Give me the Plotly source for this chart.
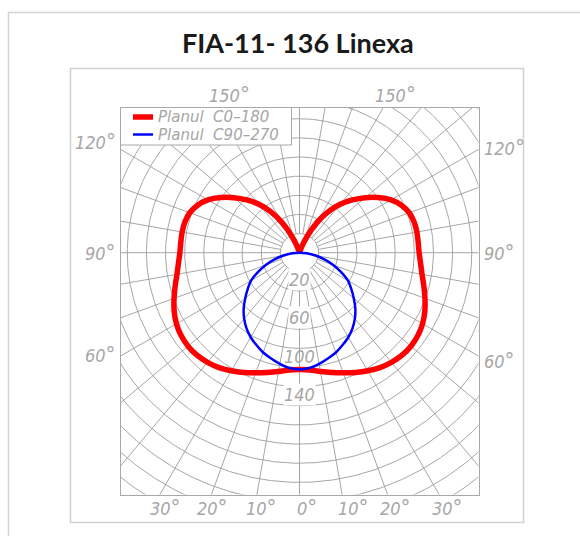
import numpy as np
import plotly.graph_objects as go

# ---------------- data ----------------
# Luminous intensity vs. gamma angle (0 deg = nadir)
gamma_c0 = [0, 5, 10, 15, 20, 25, 30, 35, 40, 45, 50, 55, 60, 65, 70, 75, 80, 85, 90,
            95, 100, 105, 110, 115, 120, 125, 130, 135, 140, 145, 150, 155, 160, 165, 170, 175, 180]
int_c0 = [122, 123, 126, 129.5, 133.5, 138, 142.5, 146.5, 149.5, 151.5, 152, 151, 148.5, 144.5, 139.5,
          134.5, 130, 127, 125, 124.5, 124.5, 124, 122, 117.5, 110.5, 100.5, 89.5, 78, 66, 52, 36, 19, 6,
          0, 0, 0, 0]

gamma_c90 = [0, 5, 10, 15, 20, 25, 30, 35, 40, 45, 50, 55, 60, 65, 70, 75, 80, 85, 90]
int_c90 = [122, 121, 118, 114.5, 111, 106.5, 102, 96.5, 90, 82.5, 74, 66, 58.5, 48, 37.5, 27, 17, 7.5, 0]

series_names = ["Planul\u00a0 C0\u2013180", "Planul\u00a0 C90\u2013270"]
series_colors = ["#ff0000", "#0000ff"]
series_widths = [5.5, 2.5]

intensity_labels = [20, 60, 100, 140]
grid_radii = list(range(20, 340, 20))
grid_angles = list(range(0, 360, 10))
bottom_angle_labels = [30, 20, 10, 0, 10, 20, 30]
side_angle_labels = [60, 90, 120]
top_angle_label = 150

title_text = "FIA-11- 136 Linexa"

# ---------------- layout geometry ----------------
W, H = 580, 536
def px(x):
    return x / W
def py(y):
    return 1 - y / H

box_l, box_r, box_t, box_b = 120.5, 478.5, 107.5, 494.5
cx, cy = 299.5, 252.7
s = 0.957  # pixels per unit
xr = [(box_l - cx) / s, (box_r - cx) / s]
yr = [-(box_b - cy) / s, (cy - box_t) / s]

def to_xy(gam_deg, r, side):
    g = np.radians(np.asarray(gam_deg, dtype=float))
    r = np.asarray(r, dtype=float)
    return side * r * np.sin(g), -r * np.cos(g)

fig = go.Figure()

# ---------------- polar grid ----------------
gx, gy = [], []
t = np.linspace(0, 2 * np.pi, 721)
for r in grid_radii:
    gx += list(r * np.cos(t)) + [None]
    gy += list(r * np.sin(t)) + [None]
for a in grid_angles:
    ar = np.radians(a)
    gx += [20 * np.sin(ar), 420 * np.sin(ar), None]
    gy += [-20 * np.cos(ar), -420 * np.cos(ar), None]
fig.add_trace(go.Scatter(x=gx, y=gy, mode="lines",
                         line=dict(color="#9c9c9c", width=0.9),
                         hoverinfo="skip", showlegend=False))

# ---------------- curves ----------------
# C0-180: right side C0, left side C180 (mirror)
lx, ly = to_xy(gamma_c0[::-1], int_c0[::-1], -1)
rx, ry = to_xy(gamma_c0[1:], int_c0[1:], 1)
fig.add_trace(go.Scatter(x=np.concatenate([lx, rx]), y=np.concatenate([ly, ry]),
                         mode="lines", name=series_names[0], showlegend=False,
                         line=dict(color=series_colors[0], width=series_widths[0],
                                   shape="spline", smoothing=0.8)))

lx, ly = to_xy(gamma_c90[::-1], int_c90[::-1], -1)
rx, ry = to_xy(gamma_c90[1:], int_c90[1:], 1)
fig.add_trace(go.Scatter(x=np.concatenate([lx, rx]), y=np.concatenate([ly, ry]),
                         mode="lines", name=series_names[1], showlegend=False,
                         line=dict(color=series_colors[1], width=series_widths[1],
                                   shape="spline", smoothing=0.8)))

# ---------------- annotations ----------------
lab_font = dict(family="Liberation Sans Narrow, DejaVu Sans Condensed, Liberation Sans",
                size=18, color="#a6a6a6", style="italic")
deg = "<span style='font-size:22px'>\u00b0</span>"
ann = []
for v in intensity_labels:
    ann.append(dict(x=0, y=-(v + 8), xref="x", yref="y", text=str(v), showarrow=False,
                    font=lab_font, bgcolor="white" if v != 100 else "rgba(0,0,0,0)", borderpad=0))

# bottom angle labels
bottom_x = [165, 212, 261, 307, 353, 395, 447]
for a, xp in zip(bottom_angle_labels, bottom_x):
    ann.append(dict(x=px(xp), y=py(507), xref="paper", yref="paper", text=f"{a}{deg}",
                    showarrow=False, font=lab_font, xanchor="center", yanchor="middle"))
# side labels
side_y_left = {60: 354, 90: 253, 120: 141}
side_y_right = {60: 360, 90: 253, 120: 147}
for a in side_angle_labels:
    ann.append(dict(x=px(118), y=py(side_y_left[a]), xref="paper", yref="paper", text=f"{a}{deg}",
                    showarrow=False, font=lab_font, xanchor="right", yanchor="middle"))
    ann.append(dict(x=px(482), y=py(side_y_right[a]), xref="paper", yref="paper", text=f"{a}{deg}",
                    showarrow=False, font=lab_font, xanchor="left", yanchor="middle"))
# top labels
for xp in (229, 395):
    ann.append(dict(x=px(xp), y=py(94), xref="paper", yref="paper", text=f"{top_angle_label}{deg}",
                    showarrow=False, font=lab_font, xanchor="center", yanchor="middle"))

# legend (drawn as a boxed key inside the plot frame)
leg_font = dict(family="DejaVu Sans, Liberation Sans, sans-serif", size=15, color="#a6a6a6", style="italic")
leg_rows = [117.0, 134.5]
shapes = [
    dict(type="rect", xref="paper", yref="paper", x0=px(8.5), x1=px(640), y0=py(12.5), y1=py(700),
         line=dict(color="#d2d2d2", width=1.5), fillcolor="rgba(0,0,0,0)", layer="below"),
    dict(type="rect", xref="paper", yref="paper", x0=px(70.5), x1=px(523.5), y0=py(68.5), y1=py(522.5),
         line=dict(color="#d0d0d0", width=1.5), fillcolor="rgba(0,0,0,0)", layer="below"),
    dict(type="rect", xref="paper", yref="paper", x0=px(box_l), x1=px(291.5), y0=py(box_t), y1=py(145),
         line=dict(color="#a8a8a8", width=1), fillcolor="white", layer="above"),
]
for name, col, wd, yy in zip(series_names, series_colors, series_widths, leg_rows):
    shapes.append(dict(type="line", xref="paper", yref="paper", x0=px(133), x1=px(153),
                       y0=py(yy), y1=py(yy), line=dict(color=col, width=wd), layer="above"))
    ann.append(dict(x=px(156), y=py(yy), xref="paper", yref="paper", text=name, showarrow=False,
                    font=leg_font, xanchor="left", yanchor="middle"))

# title
ann.append(dict(x=px(298), y=py(42), xref="paper", yref="paper", text=f"<b>{title_text}</b>",
                showarrow=False, xanchor="center", yanchor="middle",
                font=dict(family="Lato, Open Sans, sans-serif", size=27, color="#1a1a1a")))

fig.update_layout(
    width=W, height=H, margin=dict(l=0, r=0, t=0, b=0),
    paper_bgcolor="white", plot_bgcolor="white",
    xaxis=dict(domain=[px(box_l), px(box_r)], range=xr, showgrid=False, zeroline=False,
               showticklabels=False, ticks="", showline=True, mirror=True,
               linecolor="#a8a8a8", linewidth=1, fixedrange=True),
    yaxis=dict(domain=[py(box_b), py(box_t)], range=yr, showgrid=False, zeroline=False,
               showticklabels=False, ticks="", showline=True, mirror=True,
               linecolor="#a8a8a8", linewidth=1, fixedrange=True),
    showlegend=False,
    annotations=ann, shapes=shapes,
)

fig.write_html("out.html", config={"displayModeBar": False},
               post_script="document.body.style.margin='0';document.body.style.overflow='hidden';")
